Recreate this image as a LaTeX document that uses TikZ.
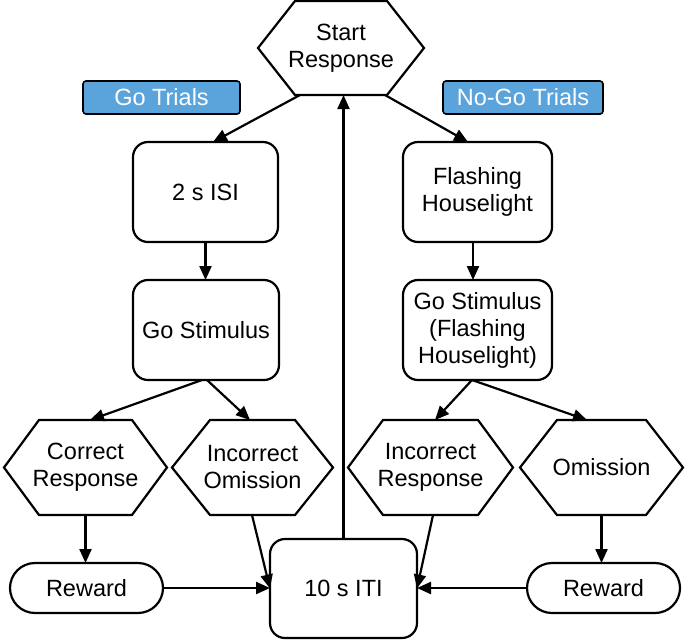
\documentclass[tikz,border=0pt]{standalone}
\usepackage{fontspec}
\setmainfont{Liberation Sans}
\usetikzlibrary{arrows.meta}
\definecolor{tagblue}{RGB}{91,164,219}
\newcommand\myhex[2]{\draw[hexline] ([xshift=#2]#1.north west) -- ([xshift=-#2]#1.north east) -- (#1.east) -- ([xshift=-#2]#1.south east) -- ([xshift=#2]#1.south west) -- (#1.west) -- cycle;}
\begin{document}
\begin{tikzpicture}[x=1pt,y=-1pt,
  every node/.style={font=\fontsize{23.5}{27}\selectfont, align=center, inner sep=0pt, outer sep=0pt},
  hexnode/.style={minimum width=#1, minimum height=95pt},
  hexline/.style={line width=2.2pt, line join=miter},
  boxnode/.style={draw, line width=2.2pt, rounded corners=15pt, minimum width=147pt, minimum height=100pt},
  pill/.style={draw, line width=2.2pt, rounded corners=25pt, minimum width=153pt, minimum height=50pt},
  tag/.style={draw=black, line width=1.6pt, fill=tagblue, text=white, rounded corners=3pt, minimum height=33pt},
  conn/.style={line width=2.2pt, -{Triangle[length=14pt,width=12pt]}}
]
\useasboundingbox (0,0) rectangle (685,641);

% hexagons
\node[hexnode=166pt, minimum height=94pt] (start) at (341,48) {Start\\Response};
\myhex{start}{37pt}
\node[hexnode=163pt] (corr) at (85.5,467.5) {Correct\\Response};
\myhex{corr}{35pt}
\node[hexnode=161pt] (incom) at (252.5,467.5) {Incorrect\\Omission};
\myhex{incom}{38pt}
\node[hexnode=165pt] (incresp) at (430.5,467.5) {Incorrect\\Response};
\myhex{incresp}{35pt}
\node[hexnode=163pt] (omis) at (601.5,467.5) {Omission};
\myhex{omis}{37pt}

% tags
\node[tag, minimum width=157pt] (gotr) at (161.5,97.5) {Go Trials};
\node[tag, minimum width=160pt] (nogotr) at (523,97.5) {No-Go Trials};

% boxes
\node[boxnode, minimum width=145pt] (isi) at (205.5,192) {2 s ISI};
\node[boxnode, minimum width=149pt] (flash) at (477.5,192) {Flashing\\Houselight};
\node[boxnode, minimum width=146pt] (gostim) at (206,330) {Go Stimulus};
\node[boxnode, minimum width=149pt] (gostim2) at (477.5,330) {Go Stimulus\\(Flashing\\Houselight)};
\node[boxnode, minimum width=147pt, minimum height=99pt] (iti) at (343.5,588.5) {10 s ITI};

% rewards
\node[pill] (rew1) at (86.5,588) {Reward};
\node[pill] (rew2) at (603.5,588) {Reward};

% connectors
\draw[conn] ([xshift=42pt]start.south west) -- ([xshift=7.5pt]isi.north);
\draw[conn] ([xshift=-39pt]start.south east) -- ([xshift=-9.5pt]flash.north);
\draw[conn] (iti.north) -- (iti.north |- start.south);
\draw[conn] (isi.south) -- (isi.south |- gostim.north);
\draw[conn] ([xshift=-4.5pt]flash.south) -- ([xshift=-4.5pt]gostim2.north);
\draw[conn] ([xshift=-4pt]gostim.south) -- ([xshift=4.5pt]corr.north);
\draw[conn] ([xshift=1pt]gostim.south) -- ([xshift=-2.5pt]incom.north);
\draw[conn] ([xshift=-5.5pt]gostim2.south) -- ([xshift=4.5pt]incresp.north);
\draw[conn] ([xshift=-5.5pt]gostim2.south) -- ([xshift=-14.5pt]omis.north);
\draw[conn] (corr.south) -- (corr.south |- rew1.north);
\draw[conn] (omis.south) -- (omis.south |- rew2.north);
\draw[conn] (rew1.east) -- (rew1.east -| iti.west);
\draw[conn] (rew2.west) -- (rew2.west -| iti.east);
\draw[conn] ([xshift=-0.5pt]incom.south) -- (iti.west);
\draw[conn] ([xshift=2.5pt]incresp.south) -- (iti.east);
\end{tikzpicture}
\end{document}
